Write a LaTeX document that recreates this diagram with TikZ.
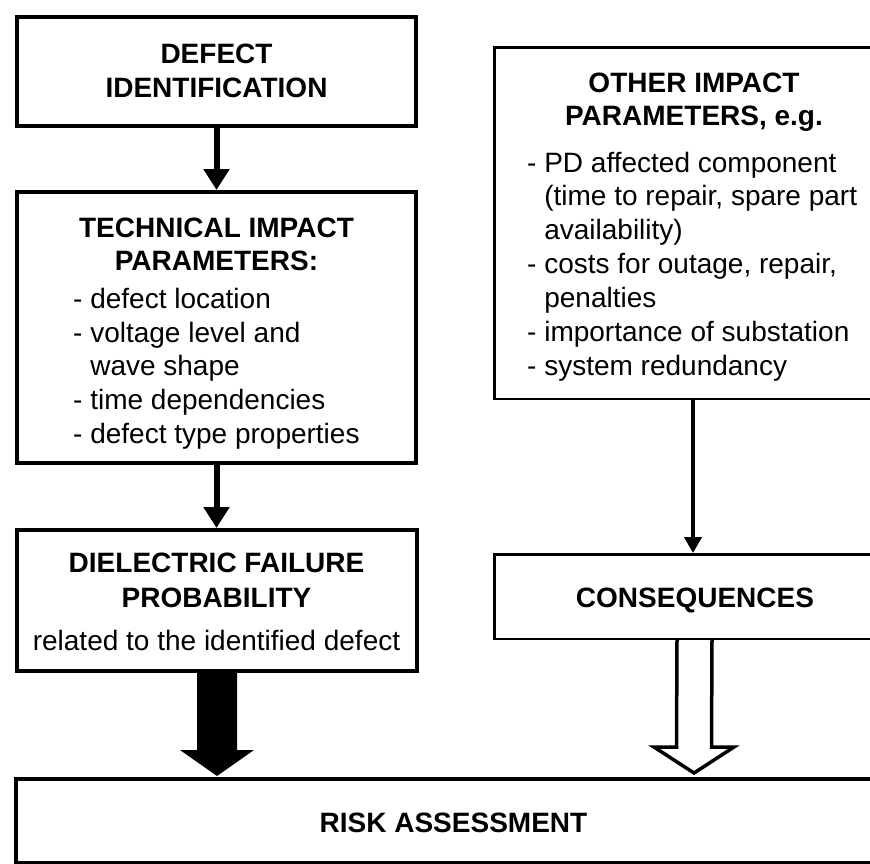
\documentclass[tikz,border=0pt]{standalone}
\usepackage{fontspec}
\setmainfont{Liberation Sans}
\usetikzlibrary{arrows.meta,calc}
\tikzset{
  thickbox/.style={draw, line width=4pt, inner sep=0pt},
  thinbox/.style={draw, line width=2.5pt, inner sep=0pt},
  ttl/.style={inner sep=0pt, anchor=base, font=\fontsize{28}{34}\selectfont\bfseries},
  bodyc/.style={inner sep=0pt, anchor=base, font=\fontsize{28}{34}\selectfont},
  bodyl/.style={inner sep=0pt, anchor=base west, font=\fontsize{28}{34}\selectfont},
  thinarrow/.style={line width=6pt, -{Triangle[width=25pt,length=21pt]}},
  medarrow/.style={line width=4pt, -{Triangle[width=17pt,length=16pt]}},
  hollow/.style={draw, line width=3.5pt, fill=white, line join=miter},
}
\begin{document}
\begin{tikzpicture}[x=1pt,y=-1pt]
\useasboundingbox (0,0) rectangle (870,863);
\clip (0,0) rectangle (870,863);

% boxes
\node[thickbox, minimum width=399pt, minimum height=109pt] (defect) at (216.5,71.5) {};
\node[thickbox, minimum width=399pt, minimum height=271pt] (tech) at (216.5,327.5) {};
\node[thickbox, minimum width=400pt, minimum height=141pt] (diel) at (217,600.5) {};
\node[thinbox, minimum width=397.5pt, minimum height=351.5pt] (other) at (693,223) {};
\node[thinbox, minimum width=397.5pt, minimum height=84.5pt] (cons) at (693,596.5) {};
\node[thickbox, minimum width=876pt, minimum height=84pt] (risk) at (454,821) {};

% texts: defect identification
\node[ttl] (d1) at (216.5,63) {DEFECT};
\node[ttl] (d2) at (216.5,97) {IDENTIFICATION};

% technical impact parameters
\node[ttl] (t1) at (216.5,237) {TECHNICAL IMPACT};
\node[ttl] (t2) at (216.5,270) {PARAMETERS:};
\node[bodyl] (t3) at (73,308) {- defect location};
\node[bodyl] (t4) at (73,342) {- voltage level and};
\node[bodyl] (t5) at (73,375.5) {\hphantom{- }wave shape};
\node[bodyl] (t6) at (73,409.5) {- time dependencies};
\node[bodyl] (t7) at (73,443) {- defect type properties};

% dielectric failure probability
\node[ttl] (p1) at (216.5,572) {DIELECTRIC FAILURE};
\node[ttl] (p2) at (216.5,607) {PROBABILITY};
\node[bodyc] (p3) at (216.5,650) {related to the identified defect};

% other impact parameters
\node[ttl] (o1) at (694,92) {OTHER IMPACT};
\node[ttl] (o2) at (694,125) {PARAMETERS, e.g.};
\node[bodyl] (o3) at (527,172) {- PD affected component};
\node[bodyl] (o4) at (527,205.8) {\hphantom{- }(time to repair, spare part};
\node[bodyl] (o5) at (527,239.7) {\hphantom{- }availability)};
\node[bodyl] (o6) at (527,273.5) {- costs for outage, repair,};
\node[bodyl] (o7) at (527,307.3) {\hphantom{- }penalties};
\node[bodyl] (o8) at (527,341.2) {- importance of substation};
\node[bodyl] (o9) at (527,375) {- system redundancy};

% consequences / risk
\node[ttl] (c1) at (695,607) {CONSEQUENCES};
\node[ttl] (r1) at (453.5,832) {RISK ASSESSMENT};

% thin arrows
\draw[thinarrow] (defect.south) -- (tech.north);
\draw[thinarrow] (tech.south) -- (diel.north -| tech.south);
\draw[medarrow] (other.south) -- (cons.north);

% big black arrow
\coordinate (bt) at (diel.south |- risk.north);
\fill ($(diel.south)+(-20,0)$) -- ($(bt)+(-20,-27)$) -- ($(bt)+(-37,-27)$) -- ($(bt)+(0,-1)$)
  -- ($(bt)+(37,-27)$) -- ($(bt)+(20,-27)$) -- ($(diel.south)+(20,0)$) -- cycle;

% hollow arrow
\coordinate (ht) at ($(cons.south |- risk.north)+(1,-4)$);
\path[hollow] ($(cons.south)+(-16,0)$) -- ($(ht)+(-17.5,-26)$) -- ($(ht)+(-40,-26)$) -- (ht)
  -- ($(ht)+(40,-26)$) -- ($(ht)+(17.5,-26)$) -- ($(cons.south)+(19,0)$);
\end{tikzpicture}
\end{document}
